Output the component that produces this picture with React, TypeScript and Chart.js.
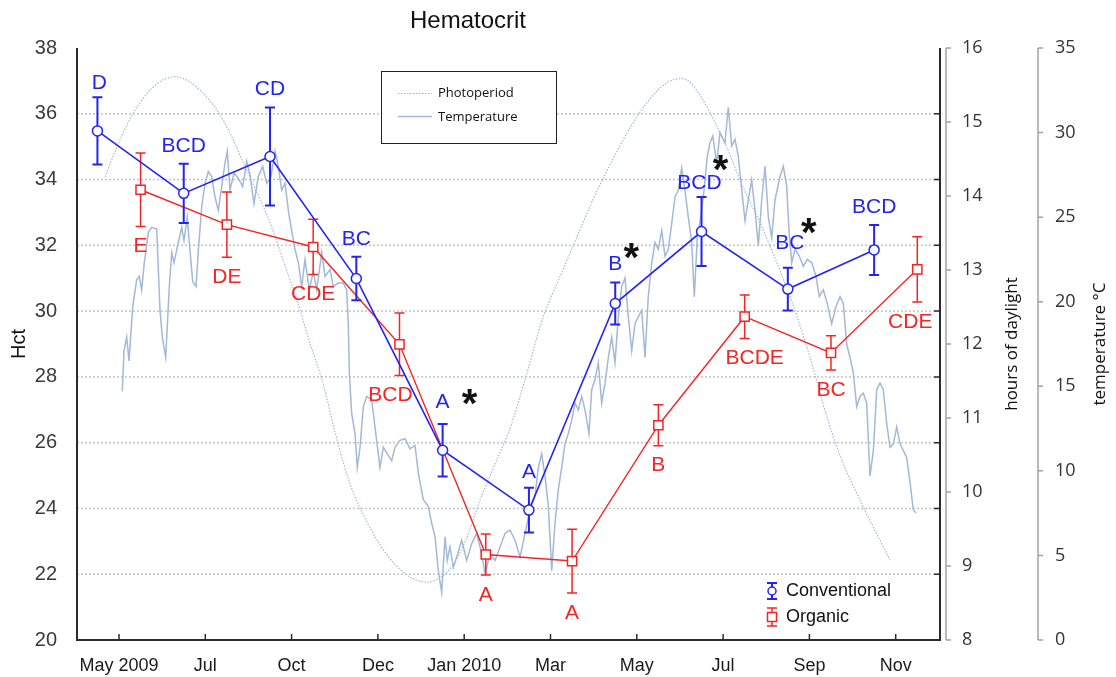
import React, { useEffect, useRef } from "react";
import { Chart, registerables } from "chart.js";
Chart.register(...registerables);

// ---------- data ----------
const xTickLabels = ["May 2009", "Jul", "Oct", "Dec", "Jan 2010", "Mar", "May", "Jul", "Sep", "Nov"];

const convX = [-0.25, 0.75, 1.75, 2.75, 3.75, 4.75, 5.75, 6.75, 7.75, 8.75];
const convHct = [35.48, 33.58, 34.7, 30.99, 25.77, 23.95, 30.23, 32.42, 30.67, 31.86];
const convErr = [1.02, 0.9, 1.49, 0.66, 0.8, 0.68, 0.64, 1.05, 0.65, 0.76];
const convLetters = ["D", "BCD", "CD", "BC", "A", "A", "B", "BCD", "BC", "BCD"];
const convSignificant = [false, false, false, false, true, false, true, true, true, false];

const orgX = [0.25, 1.25, 2.25, 3.25, 4.25, 5.25, 6.25, 7.25, 8.25, 9.25];
const orgHct = [33.69, 32.63, 31.95, 28.99, 22.6, 22.4, 26.53, 29.83, 28.73, 31.27];
const orgErr = [1.12, 0.99, 0.84, 0.95, 0.62, 0.97, 0.62, 0.66, 0.52, 0.99];
const orgLetters = ["E", "DE", "CDE", "BCD", "A", "A", "B", "BCDE", "BC", "CDE"];

const photoX = [-0.162, 0.012, 0.185, 0.359, 0.51, 0.672, 0.823, 0.973, 1.136, 1.286, 1.437, 1.599, 1.75, 1.9,
  2.063, 2.213, 2.364, 2.503, 2.654, 2.793, 2.99, 3.175, 3.372, 3.569, 3.72, 3.87, 4.032, 4.183, 4.369, 4.531,
  4.728, 4.913, 5.11, 5.307, 5.492, 5.689, 5.886, 6.072, 6.269, 6.419, 6.582, 6.732, 6.883, 7.045, 7.231, 7.428,
  7.625, 7.81, 8.007, 8.204, 8.39, 8.586, 8.737, 8.934];
const photoHours = [14.26, 14.76, 15.16, 15.43, 15.57, 15.61, 15.54, 15.39, 15.16, 14.85, 14.46, 14.05, 13.64, 13.14,
  12.59, 12.01, 11.47, 10.81, 10.19, 9.78, 9.35, 9.05, 8.85, 8.78, 8.84, 9.01, 9.39, 9.89, 10.41, 10.86,
  11.61, 12.36, 12.91, 13.45, 13.95, 14.42, 14.85, 15.19, 15.46, 15.57, 15.57, 15.36, 15.05, 14.65, 14.12, 13.64,
  13.09, 12.53, 11.82, 11.01, 10.39, 9.89, 9.53, 9.08];

const tempX = [0.038, 0.058, 0.089, 0.116, 0.159, 0.205, 0.235, 0.263, 0.293, 0.34, 0.379, 0.437, 0.475, 0.502,
  0.541, 0.583, 0.611, 0.637, 0.687, 0.727, 0.753, 0.791, 0.823, 0.854, 0.892, 0.919, 0.958, 0.997, 1.035, 1.074,
  1.112, 1.151, 1.19, 1.228, 1.255, 1.286, 1.333, 1.382, 1.433, 1.48, 1.518, 1.564, 1.614, 1.665, 1.711, 1.761,
  1.808, 1.846, 1.885, 1.924, 1.962, 2.001, 2.039, 2.078, 2.117, 2.155, 2.205, 2.251, 2.291, 2.349, 2.387, 2.445,
  2.483, 2.541, 2.599, 2.638, 2.657, 2.669, 2.696, 2.735, 2.761, 2.793, 2.831, 2.87, 2.928, 2.966, 3.024, 3.063,
  3.109, 3.16, 3.198, 3.256, 3.314, 3.372, 3.43, 3.468, 3.526, 3.584, 3.623, 3.662, 3.7, 3.739, 3.778, 3.804,
  3.835, 3.874, 3.913, 3.971, 4.029, 4.087, 4.145, 4.203, 4.241, 4.299, 4.357, 4.415, 4.473, 4.531, 4.589, 4.647,
  4.705, 4.762, 4.82, 4.859, 4.898, 4.936, 4.975, 5.014, 5.052, 5.091, 5.13, 5.168, 5.206, 5.246, 5.284, 5.322,
  5.361, 5.4, 5.446, 5.477, 5.516, 5.554, 5.593, 5.632, 5.67, 5.709, 5.747, 5.786, 5.825, 5.863, 5.902, 5.941,
  5.979, 6.017, 6.057, 6.095, 6.133, 6.173, 6.211, 6.249, 6.289, 6.327, 6.365, 6.404, 6.443, 6.481, 6.52, 6.558,
  6.597, 6.636, 6.666, 6.701, 6.74, 6.779, 6.817, 6.848, 6.88, 6.926, 6.964, 7.022, 7.06, 7.1, 7.138, 7.176,
  7.216, 7.254, 7.292, 7.331, 7.37, 7.408, 7.447, 7.486, 7.524, 7.563, 7.601, 7.659, 7.698, 7.737, 7.764, 7.795,
  7.833, 7.883, 7.929, 7.976, 8.027, 8.076, 8.115, 8.161, 8.207, 8.258, 8.308, 8.355, 8.393, 8.432, 8.47, 8.509,
  8.548, 8.586, 8.625, 8.664, 8.702, 8.741, 8.78, 8.818, 8.856, 8.896, 8.934, 8.972, 9.012, 9.05, 9.088, 9.127,
  9.166, 9.204, 9.235];
const tempC = [14.7, 17.1, 17.9, 16.5, 19.7, 21.3, 21.5, 20.7, 22.3, 24.1, 24.4, 24.3, 19.5, 17.9,
  16.7, 20.9, 22.9, 22.3, 23.5, 24.4, 23.6, 25.0, 23.0, 21.2, 20.9, 23.0, 25.6, 27.0, 27.7, 27.4,
  26.2, 25.4, 26.8, 28.2, 28.9, 26.6, 27.6, 27.3, 26.8, 28.3, 27.5, 25.8, 27.4, 28.0, 27.0, 27.4,
  28.9, 28.0, 26.6, 27.0, 25.4, 24.2, 23.1, 22.3, 20.9, 22.5, 20.7, 21.8, 20.7, 22.9, 21.5, 21.9,
  20.9, 21.1, 21.1, 20.7, 18.7, 15.8, 13.4, 12.2, 10.2, 11.4, 13.8, 14.4, 14.2, 12.6, 10.2, 11.4,
  11.0, 10.6, 11.4, 11.8, 11.9, 11.3, 11.5, 9.9, 8.3, 7.9, 6.9, 6.1, 4.1, 2.8, 6.1, 4.7,
  5.5, 4.3, 4.9, 5.9, 4.7, 5.7, 6.3, 5.1, 3.9, 5.1, 4.7, 5.5, 6.3, 6.5, 5.9, 4.9,
  6.3, 7.7, 8.5, 10.2, 11.0, 9.7, 7.9, 4.1, 6.9, 8.9, 10.2, 11.6, 12.2, 13.0, 14.0, 13.6,
  14.4, 13.6, 12.2, 14.8, 15.4, 16.4, 14.0, 15.2, 16.7, 17.9, 16.4, 19.1, 20.9, 21.4, 19.1, 17.1,
  18.7, 19.1, 19.5, 16.7, 20.3, 22.3, 23.5, 23.1, 24.2, 22.7, 23.1, 24.6, 26.2, 26.6, 27.9, 26.6,
  25.0, 23.5, 20.3, 23.8, 25.0, 26.6, 28.6, 29.4, 29.8, 28.2, 30.0, 29.4, 31.5, 29.2, 29.6, 28.6,
  26.6, 24.8, 26.0, 27.2, 25.4, 23.3, 26.0, 28.0, 25.0, 23.8, 26.0, 27.4, 28.0, 26.8, 24.2, 22.3,
  23.1, 22.7, 22.1, 22.5, 22.3, 21.5, 20.3, 20.7, 19.9, 18.7, 19.7, 20.3, 19.9, 17.5, 16.7, 15.8,
  13.8, 14.4, 14.6, 14.0, 9.7, 11.2, 14.8, 15.2, 14.8, 12.8, 11.4, 11.6, 12.6, 11.6, 11.2, 10.8,
  9.3, 7.7, 7.5];

// ---------- styling / layout ----------
const BLUE = "#2424f2";
const RED = "#f52525";
const TEMP_COLOR = "#a3b9d5";
const PHOTO_COLOR = "#95b4e0";
const SANS = "'Liberation Sans', Arial, sans-serif";
const ALT = "'Open Sans', 'Noto Sans', sans-serif";

const labelLayout = {
  convDy: -18,
  orgDy: 20,
  convNudge: { 0: [2, 4], 4: [0, -4], 5: [0, 2], 7: [-2, 4], 8: [2, -6] } as Record<number, number[]>,
  orgNudge: { 3: [-9, 0], 7: [10, 0], 9: [-7, 0] } as Record<number, number[]>,
  star: { 4: [27, -8], 6: [16, -16], 7: [21, -23], 8: [19, -21] } as Record<number, number[]>,
};

function drawErrorBars(ctx: CanvasRenderingContext2D, xs: number[], ys: number[], errs: number[], xS: any, yS: any, color: string, width: number) {
  ctx.save();
  ctx.strokeStyle = color;
  ctx.lineWidth = width;
  xs.forEach((xv, i) => {
    const px = xS.getPixelForValue(xv);
    const top = yS.getPixelForValue(ys[i] + errs[i]);
    const bot = yS.getPixelForValue(ys[i] - errs[i]);
    ctx.beginPath();
    ctx.moveTo(px, top); ctx.lineTo(px, bot);
    ctx.moveTo(px - 5, top); ctx.lineTo(px + 5, top);
    ctx.moveTo(px - 5, bot); ctx.lineTo(px + 5, bot);
    ctx.stroke();
  });
  ctx.restore();
}

const decorPlugin = {
  id: "decor",
  beforeDatasetsDraw(chart: any) {
    const { ctx, chartArea: a, scales } = chart;
    const y = scales.y;
    ctx.save();
    ctx.strokeStyle = "#c4c4c4";
    ctx.lineWidth = 1.5;
    ctx.setLineDash([2, 2]);
    y.ticks.forEach((t: any) => {
      if (t.value <= y.min || t.value >= y.max) return;
      const py = y.getPixelForValue(t.value);
      ctx.beginPath();
      ctx.moveTo(a.left, py);
      ctx.lineTo(a.right, py);
      ctx.stroke();
    });
    ctx.restore();
  },
  beforeDatasetDraw(chart: any, args: any) {
    const { ctx, scales } = chart;
    if (args.index === 0) drawErrorBars(ctx, convX, convHct, convErr, scales.x, scales.y, BLUE, 2);
    if (args.index === 1) drawErrorBars(ctx, orgX, orgHct, orgErr, scales.x, scales.y, RED, 1.5);
  },
  afterDatasetsDraw(chart: any) {
    const { ctx, chartArea: a, scales } = chart;
    const { x, y, yH, yT } = scales;
    ctx.save();
    // frame
    ctx.strokeStyle = "#2b2b2b";
    ctx.lineWidth = 2;
    ctx.beginPath();
    ctx.moveTo(a.left, a.top); ctx.lineTo(a.left, a.bottom); ctx.lineTo(a.right, a.bottom); ctx.lineTo(a.right, a.top);
    ctx.stroke();
    ctx.lineWidth = 1.5;
    ctx.beginPath();
    y.ticks.forEach((t: any) => {
      if (t.value <= y.min || t.value >= y.max) return;
      const py = y.getPixelForValue(t.value);
      ctx.moveTo(a.right, py); ctx.lineTo(a.right - 6, py);
    });
    x.ticks.forEach((t: any) => {
      const px = x.getPixelForValue(t.value);
      ctx.moveTo(px, a.bottom); ctx.lineTo(px, a.bottom - 6);
    });
    ctx.stroke();
    // secondary axes
    ctx.strokeStyle = "#a2a2a2";
    ctx.lineWidth = 1.5;
    const sec = [[yH, yH.left + 6], [yT, yT.left - 2]];
    sec.forEach(([s, lx]: any) => {
      ctx.beginPath();
      ctx.moveTo(lx, a.top); ctx.lineTo(lx, a.bottom);
      s.ticks.forEach((t: any) => {
        const py = s.getPixelForValue(t.value);
        ctx.moveTo(lx, py); ctx.lineTo(lx + 5, py);
      });
      ctx.stroke();
    });

    // letters
    ctx.font = `21px ${SANS}`;
    ctx.textAlign = "center";
    ctx.textBaseline = "middle";
    const starPos: number[][] = [];
    convX.forEach((xv, i) => {
      const n = labelLayout.convNudge[i] || [0, 0];
      const px = x.getPixelForValue(xv) + n[0];
      const py = y.getPixelForValue(convHct[i] + convErr[i]) + labelLayout.convDy + n[1];
      ctx.fillStyle = BLUE;
      ctx.fillText(convLetters[i], px, py);
      if (convSignificant[i]) {
        const s = labelLayout.star[i] || [20, -15];
        starPos.push([px + s[0], py + s[1]]);
      }
    });
    orgX.forEach((xv, i) => {
      const n = labelLayout.orgNudge[i] || [0, 0];
      const px = x.getPixelForValue(xv) + n[0];
      const py = y.getPixelForValue(orgHct[i] - orgErr[i]) + labelLayout.orgDy + n[1];
      ctx.fillStyle = RED;
      ctx.fillText(orgLetters[i], px, py);
    });
    ctx.fillStyle = "#111";
    ctx.font = `bold 40px ${SANS}`;
    ctx.textBaseline = "alphabetic";
    starPos.forEach(([px, py]) => ctx.fillText("*", px, py + 23));

    // legend box (top)
    ctx.fillStyle = "#fff";
    ctx.fillRect(381.5, 71.5, 175, 72);
    ctx.strokeStyle = "#222";
    ctx.lineWidth = 1;
    ctx.strokeRect(381.5, 71.5, 175, 72);
    ctx.lineWidth = 1.2;
    ctx.strokeStyle = PHOTO_COLOR;
    ctx.setLineDash([1.5, 1.5]);
    ctx.beginPath(); ctx.moveTo(398, 93.5); ctx.lineTo(432, 93.5); ctx.stroke();
    ctx.setLineDash([]);
    ctx.strokeStyle = TEMP_COLOR;
    ctx.lineWidth = 1.5;
    ctx.beginPath(); ctx.moveTo(398, 116.5); ctx.lineTo(432, 116.5); ctx.stroke();
    ctx.fillStyle = "#111";
    ctx.font = `13px ${ALT}`;
    ctx.textAlign = "left";
    ctx.textBaseline = "middle";
    ctx.fillText("Photoperiod", 438, 93);
    ctx.fillText("Temperature", 438, 117);

    // legend (bottom right)
    const lx = 772;
    ctx.strokeStyle = BLUE; ctx.lineWidth = 2;
    ctx.beginPath();
    ctx.moveTo(lx, 583); ctx.lineTo(lx, 599);
    ctx.moveTo(lx - 5, 583); ctx.lineTo(lx + 5, 583);
    ctx.moveTo(lx - 5, 599); ctx.lineTo(lx + 5, 599);
    ctx.stroke();
    ctx.fillStyle = "#fff"; ctx.lineWidth = 1.5;
    ctx.beginPath(); ctx.arc(lx, 591, 4, 0, Math.PI * 2); ctx.fill(); ctx.stroke();
    ctx.strokeStyle = RED; ctx.lineWidth = 1.5;
    ctx.beginPath();
    ctx.moveTo(lx, 608); ctx.lineTo(lx, 626);
    ctx.moveTo(lx - 5, 608); ctx.lineTo(lx + 5, 608);
    ctx.moveTo(lx - 5, 626); ctx.lineTo(lx + 5, 626);
    ctx.stroke();
    ctx.fillStyle = "#fff";
    ctx.fillRect(lx - 4.5, 612.5, 9, 9); ctx.strokeRect(lx - 4.5, 612.5, 9, 9);
    ctx.fillStyle = "#111";
    ctx.font = `18px ${SANS}`;
    ctx.fillText("Conventional", 786, 591);
    ctx.fillText("Organic", 786, 617);

    // titles
    ctx.textAlign = "center";
    ctx.font = `24px ${SANS}`;
    ctx.fillText("Hematocrit", 468, 21);
    const cy = (a.top + a.bottom) / 2;
    const rot = (text: string, px: number, font: string) => {
      ctx.save();
      ctx.translate(px, cy);
      ctx.rotate(-Math.PI / 2);
      ctx.font = font;
      ctx.fillText(text, 0, 0);
      ctx.restore();
    };
    rot("Hct", 19, `20px ${SANS}`);
    rot("hours of daylight", yH.left + 72, `17px ${ALT}`);
    rot("temperature \u00B0C", yT.left + 60, `17px ${ALT}`);
    ctx.restore();
  },
};

export default function App() {
  const ref = useRef<HTMLCanvasElement>(null);
  useEffect(() => {
    const canvas = ref.current;
    if (!canvas) return;
    Chart.defaults.font.family = SANS;
    const chart = new Chart(canvas, {
      type: "line",
      data: {
        datasets: [
          {
            label: "Conventional",
            data: convX.map((xv, i) => ({ x: xv, y: convHct[i] })),
            yAxisID: "y",
            borderColor: BLUE,
            borderWidth: 1.6,
            pointStyle: "circle",
            pointRadius: 5,
            pointBorderWidth: 1.5,
            pointBackgroundColor: "#fff",
            pointBorderColor: BLUE,
            tension: 0,
          },
          {
            label: "Organic",
            data: orgX.map((xv, i) => ({ x: xv, y: orgHct[i] })),
            yAxisID: "y",
            borderColor: RED,
            borderWidth: 1.4,
            pointStyle: "rect",
            pointRadius: 6.5,
            pointBorderWidth: 1.5,
            pointBackgroundColor: "#fff",
            pointBorderColor: RED,
            tension: 0,
          },
          {
            label: "Photoperiod",
            data: photoX.map((xv, i) => ({ x: xv, y: photoHours[i] })),
            yAxisID: "yH",
            borderColor: PHOTO_COLOR,
            borderWidth: 1.1,
            borderDash: [1.5, 1.5],
            pointRadius: 0,
            tension: 0.3,
          },
          {
            label: "Temperature",
            data: tempX.map((xv, i) => ({ x: xv, y: tempC[i] })),
            yAxisID: "yT",
            borderColor: TEMP_COLOR,
            borderWidth: 1.5,
            pointRadius: 0,
            tension: 0,
          },
        ],
      },
      options: {
        animation: false,
        responsive: false,
        devicePixelRatio: 1,
        events: [],
        layout: { padding: { top: 48, left: 0, right: 0, bottom: 0 } },
        plugins: { legend: { display: false }, tooltip: { enabled: false }, title: { display: false } },
        scales: {
          x: {
            type: "linear",
            min: -0.4867,
            max: 9.5133,
            grid: { display: false },
            border: { display: false },
            afterBuildTicks: (s: any) => { s.ticks = xTickLabels.map((_, i) => ({ value: i })); },
            afterFit: (s: any) => { s.height = 37; },
            ticks: {
              autoSkip: false,
              maxRotation: 0,
              padding: 7,
              color: "#1a1a1a",
              font: { size: 18, family: SANS },
              callback: (_v: any, i: number) => xTickLabels[i],
            },
          },
          y: {
            position: "left",
            min: 20,
            max: 38,
            grid: { display: false },
            border: { display: false },
            afterFit: (s: any) => { s.width = 77; },
            ticks: { stepSize: 2, padding: 12, color: "#3a3a3a", font: { size: 20, family: SANS } },
          },
          yH: {
            position: "right",
            weight: 1,
            min: 8,
            max: 16,
            grid: { display: false },
            border: { display: false },
            afterFit: (s: any) => { s.width = 100; },
            ticks: { stepSize: 1, padding: 14, color: "#333", font: { size: 18, family: ALT } },
          },
          yT: {
            position: "right",
            weight: 2,
            min: 0,
            max: 35,
            grid: { display: false },
            border: { display: false },
            afterFit: (s: any) => { s.width = 76; },
            ticks: { stepSize: 5, padding: 7, color: "#333", font: { size: 18, family: ALT } },
          },
        },
      } as any,
      plugins: [decorPlugin],
    });
    return () => chart.destroy();
  }, []);
  return (
    <div style={{ position: "fixed", left: 0, top: 0, width: 1116, height: 677, background: "#fff" }}>
      <canvas ref={ref} width={1116} height={677} style={{ display: "block", width: 1116, height: 677 }} />
    </div>
  );
}
